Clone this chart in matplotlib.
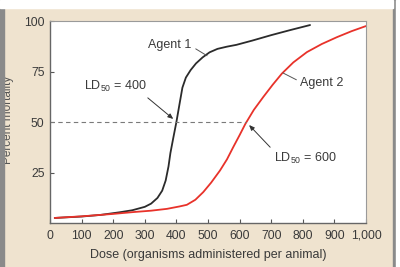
"""
Dose-response curves for two agents (LD50 comparison).
Saves out.png
"""

import matplotlib
matplotlib.use("Agg")
import matplotlib.pyplot as plt
from matplotlib.patches import Rectangle

plt.rcParams["font.family"] = ["Liberation Sans", "DejaVu Sans"]
plt.rcParams["mathtext.fontset"] = "custom"
plt.rcParams["mathtext.rm"] = "Liberation Sans"
plt.rcParams["mathtext.default"] = "regular"

# ── data ────────────────────────────────────────────────────────────────────
dose_agent1 = [15, 100, 160, 220, 260, 300, 320, 340, 355, 366, 375, 381, 390,
               400, 410, 419, 430, 445, 462, 483, 505, 530, 560, 590, 640,
               700, 760, 823]
mort_agent1 = [2.5, 3.2, 4.0, 5.3, 6.3, 8.0, 9.6, 12.4, 16, 21, 28, 34.6, 42,
               50, 59, 67, 72, 75.7, 79, 82, 84.5, 86.2, 87.3, 88.2, 90.3,
               93, 95.5, 98]

dose_agent2 = [15, 100, 200, 263, 320, 370, 410, 433, 460, 485, 510, 538, 560,
               580, 600, 618, 645, 675, 705, 734, 770, 813, 860, 908, 955, 1000]
mort_agent2 = [2.5, 3.3, 4.5, 5.4, 6.1, 7.0, 8.2, 9.0, 11.5, 15.3, 20, 26, 31.5,
               37.6, 43.5, 49, 56, 62.4, 68.5, 74, 79.5, 84.6, 88.6, 92, 95, 97.5]

ld50_level = 50
ld50_dash_end = 621          # where the dashed line meets Agent 2

x_ticks = list(range(0, 1001, 100))
x_tick_labels = ["0", "100", "200", "300", "400", "500", "600", "700", "800",
                 "900", "1,000"]
y_ticks = [25, 50, 75, 100]

# ── colours ─────────────────────────────────────────────────────────────────
BG       = "#efe3cf"
TXT      = "#3a3a3a"
BLACK_LN = "#2b2b2b"
RED_LN   = "#e8322a"

fig = plt.figure(figsize=(4.0, 2.67), dpi=100, facecolor=BG)

# frame decorations (grey side bars, white top strip)
fig.patches.append(Rectangle((0, 0), 4 / 400, 1, transform=fig.transFigure,
                             color="#8a8a8a", zorder=0))
fig.patches.append(Rectangle((393 / 400, 0), 3 / 400, 1, transform=fig.transFigure,
                             color="#8a8a8a", zorder=0))
fig.patches.append(Rectangle((396 / 400, 0), 4 / 400, 1, transform=fig.transFigure,
                             color="white", zorder=0))
fig.patches.append(Rectangle((0, 259 / 267), 393 / 400, 8 / 267,
                             transform=fig.transFigure, color="white", zorder=0))

ax = fig.add_axes([50 / 400, 44 / 267, 316 / 400, 202 / 267])
ax.set_facecolor("white")

ax.plot(dose_agent1, mort_agent1, color=BLACK_LN, lw=1.3, solid_capstyle="round")
ax.plot(dose_agent2, mort_agent2, color=RED_LN, lw=1.3, solid_capstyle="round")
ax.plot([0, ld50_dash_end], [ld50_level, ld50_level], color="#7a7a7a",
        lw=0.8, ls=(0, (4, 3)))

ax.set_xlim(0, 1000)
ax.set_ylim(0, 100)
ax.set_xticks(x_ticks)
ax.set_xticklabels(x_tick_labels, va="baseline")
ax.set_yticks(y_ticks)
ax.tick_params(direction="in", length=3, width=0.8, color="#555555",
               labelsize=8.8, labelcolor=TXT)
ax.tick_params(axis="x", pad=11.5)
ax.tick_params(axis="y", pad=4)

for side in ["left", "bottom"]:
    ax.spines[side].set_color("#666666")
    ax.spines[side].set_linewidth(1.0)
for side in ["top", "right"]:
    ax.spines[side].set_color("#9a9a9a")
    ax.spines[side].set_linewidth(0.8)

ax.set_xlabel("Dose (organisms administered per animal)", fontsize=9,
              color=TXT)
ax.xaxis.set_label_coords(0.5, -0.158)
ax.xaxis.label.set_va("center")
ax.set_ylabel("Percent mortality", fontsize=8.5, color="#555555")
ax.yaxis.set_label_coords(-0.114, 0.51)

# annotations
line_kw = dict(arrowstyle="-", color="#555555", lw=0.7, shrinkA=1, shrinkB=0)
arrow_kw = dict(arrowstyle="-|>,head_length=0.35,head_width=0.15",
                color="#333333", lw=0.7, shrinkA=1, shrinkB=0)

ax.annotate("Agent 1", xy=(497, 82.8), xytext=(380, 88), fontsize=9, color=TXT,
            ha="center", va="center",
            arrowprops=dict(relpos=(1.0, 0.4), **line_kw))
ax.annotate("Agent 2", xy=(737, 74.3), xytext=(861, 69.3), fontsize=9, color=TXT,
            ha="center", va="center",
            arrowprops=dict(relpos=(0.0, 0.6), **line_kw))
ax.annotate("LD$_{50}$ = 400", xy=(390, 51.5), xytext=(206, 67.5), fontsize=9,
            color=TXT, ha="center", va="center",
            arrowprops=dict(relpos=(0.95, 0.0), **arrow_kw))
ax.annotate("LD$_{50}$ = 600", xy=(630, 48.5), xytext=(808, 32.2), fontsize=9,
            color=TXT, ha="center", va="center",
            arrowprops=dict(relpos=(0.0, 0.95), **arrow_kw))

fig.savefig("out.png", dpi=100, facecolor=BG)
plt.close(fig)
print("Saved → out.png")
